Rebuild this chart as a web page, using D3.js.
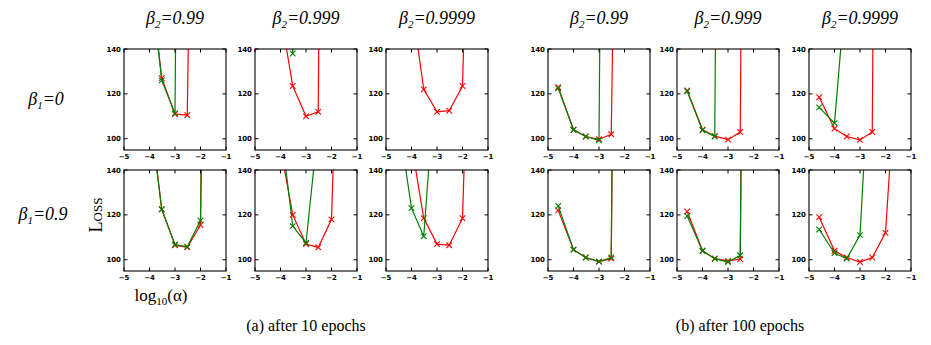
<!DOCTYPE html>
<html>
<head>
<meta charset="utf-8">
<script src="https://cdn.jsdelivr.net/npm/d3@7"></script>
<style>
  body { margin: 0; background: #fff; }
</style>
</head>
<body>
<div id="chart"></div>
<script>
// log10(alpha) grid used by every run
var alphas = [-4.6, -4, -3.52, -3, -2.52, -2, -1.5];

var beta1Labels = ["0", "0.9"];
var beta2Labels = ["0.99", "0.999", "0.9999"];
var xTicks = [-5, -4, -3, -2, -1];
var yTicks = [100, 120, 140];
var captions = ["(a) after 10 epochs", "(b) after 100 epochs"];

// loss values (null = not run); panels ordered by beta1 row, then beta2 column
// (a) after 10 epochs
var red10 = [
  [null, 175, 127, 111, 110.5, 500, null],
  [null, 156, 123.5, 110, 112, 900, null],
  [null, 161, 122, 112, 112.5, 123.5, 330],
  [null, 167, 122.5, 106.5, 105.5, 115.5, 600],
  [null, 150, 120, 107, 105.5, 118, 300],
  [null, 151.6, 118.5, 107, 106.5, 118.5, 300]
];
var green10 = [
  [null, 175, 126, 111.3, 800, null, null],
  [null, 300, 138, 300, null, null, null],
  [null, 400, 300, 400, 500, null, null],
  [null, 167, 122.5, 106.8, 105.8, 117.5, 600],
  [null, 160, 115, 107.5, 160, null, null],
  [169, 123, 110.5, 191, null, null, null]
];
// (b) after 100 epochs
var red100 = [
  [123, 104, 101, 99.8, 102, 500, null],
  [121.5, 104, 101.2, 99.6, 103, 900, null],
  [118.5, 104.5, 101, 99.5, 103, 900, null],
  [122, 104.5, 101, 99.2, 100.5, 800, null],
  [121.5, 104, 100.5, 99.5, 100.3, 800, null],
  [119, 104, 101, 99, 101, 112, 199.5]
];
var green100 = [
  [122.5, 104, 101, 99.3, 800, null, null],
  [121.2, 103.8, 101, 900, null, null, null],
  [114, 107, 172, null, null, null, null],
  [124, 104.5, 101, 99.2, 101, 800, null],
  [119.5, 104, 100.5, 99, 102, 800, null],
  [113.5, 103, 100.5, 111, 210, null, null]
];

var SERIF = "'Liberation Serif', 'Times New Roman', 'DejaVu Serif', serif";
var SANS = "'DejaVu Sans', sans-serif";

var W = 931, H = 345;
var svg = d3.select("#chart").append("svg")
  .attr("width", W).attr("height", H);

var groups = [
  { lefts: [124, 255, 386], red: red10, green: green10, caption: captions[0], cx: 306 },
  { lefts: [548, 677, 809], red: red100, green: green100, caption: captions[1], cx: 740 }
];
var rowTops = [49, 170];
var pw = 102, ph = 101;

var x = d3.scaleLinear().domain([-5, -1]).range([0, pw]);
var y = d3.scaleLinear().domain([95, 140]).range([ph, 0]);

var line = d3.line()
  .defined(function(d) { return d[1] != null; })
  .x(function(d) { return x(d[0]); })
  .y(function(d) { return y(d[1]); });

var clipId = 0;
function drawPanel(left, top, redVals, greenVals) {
  var g = svg.append("g").attr("transform", "translate(" + left + "," + top + ")");
  var id = "clip" + (clipId++);
  g.append("clipPath").attr("id", id)
    .append("rect").attr("width", pw).attr("height", ph);

  var plot = g.append("g").attr("clip-path", "url(#" + id + ")");
  [[redVals, "#ff0000"], [greenVals, "#008000"]].forEach(function(s) {
    var pts = alphas.map(function(a, i) { return [a, s[0][i]]; });
    plot.append("path").datum(pts)
      .attr("d", line)
      .attr("fill", "none")
      .attr("stroke", s[1])
      .attr("stroke-width", 1.2);
    plot.selectAll(null)
      .data(pts.filter(function(d) { return d[1] != null && d[1] <= 141; }))
      .enter().append("path")
      .attr("transform", function(d) { return "translate(" + x(d[0]) + "," + y(d[1]) + ")"; })
      .attr("d", "M-2.8,-2.8L2.8,2.8M-2.8,2.8L2.8,-2.8")
      .attr("stroke", s[1])
      .attr("stroke-width", 1.1);
  });

  // ticks inward on all four sides
  var tl = 3.5;
  xTicks.forEach(function(t) {
    g.append("line").attr("x1", x(t)).attr("x2", x(t)).attr("y1", ph).attr("y2", ph - tl).attr("stroke", "#000");
    g.append("line").attr("x1", x(t)).attr("x2", x(t)).attr("y1", 0).attr("y2", tl).attr("stroke", "#000");
    g.append("text")
      .attr("x", x(t)).attr("y", ph + 9)
      .attr("text-anchor", "middle")
      .style("font-family", SANS).style("font-weight", "bold").style("font-size", "7px")
      .text(t < 0 ? "\u2212" + Math.abs(t) : t);
  });
  yTicks.forEach(function(t) {
    g.append("line").attr("x1", 0).attr("x2", tl).attr("y1", y(t)).attr("y2", y(t)).attr("stroke", "#000");
    g.append("line").attr("x1", pw).attr("x2", pw - tl).attr("y1", y(t)).attr("y2", y(t)).attr("stroke", "#000");
    g.append("text")
      .attr("x", -3).attr("y", y(t) + 2.5)
      .attr("text-anchor", "end")
      .style("font-family", SANS).style("font-weight", "bold").style("font-size", "7px")
      .text(t);
  });

  g.append("rect").attr("width", pw).attr("height", ph)
    .attr("fill", "none").attr("stroke", "#000").attr("stroke-width", 1.1);
}

groups.forEach(function(grp) {
  rowTops.forEach(function(top, r) {
    grp.lefts.forEach(function(left, c) {
      drawPanel(left, top, grp.red[r * 3 + c], grp.green[r * 3 + c]);
    });
  });
  // column titles
  grp.lefts.forEach(function(left, c) {
    var t = svg.append("text")
      .attr("x", left + pw / 2).attr("y", 24)
      .attr("text-anchor", "middle")
      .style("font-family", SERIF)
      .style("font-size", "18px").style("font-style", "italic");
    t.append("tspan").text("\u03b2");
    t.append("tspan").attr("dy", 4).style("font-size", "11px").text("2");
    t.append("tspan").attr("dy", -4).text("=" + beta2Labels[c]);
  });
  svg.append("text")
    .attr("x", grp.cx).attr("y", 331)
    .attr("text-anchor", "middle")
    .style("font-family", SERIF)
    .style("font-size", "16px")
    .text(grp.caption);
});

// row labels
[[105, 46], [220, 43]].forEach(function(p, r) {
  var t = svg.append("text")
    .attr("x", p[1]).attr("y", p[0])
    .attr("text-anchor", "middle")
    .style("font-family", SERIF)
    .style("font-size", "18px").style("font-style", "italic");
  t.append("tspan").text("\u03b2");
  t.append("tspan").attr("dy", 4).style("font-size", "11px").text("1");
  t.append("tspan").attr("dy", -4).text("=" + beta1Labels[r]);
});

// y label
svg.append("text")
  .attr("transform", "translate(102,215) rotate(-90)")
  .attr("text-anchor", "middle")
  .style("font-family", SERIF)
  .style("font-size", "18px")
  .style("font-variant", "small-caps")
  .text("Loss");

// x label
var xl = svg.append("text")
  .attr("x", 161).attr("y", 301)
  .attr("text-anchor", "middle")
  .style("font-family", SERIF)
  .style("font-size", "17px");
xl.append("tspan").text("log");
xl.append("tspan").attr("dy", 4).style("font-size", "11px").text("10");
xl.append("tspan").attr("dy", -4).text("(\u03b1)");
</script>
</body>
</html>
